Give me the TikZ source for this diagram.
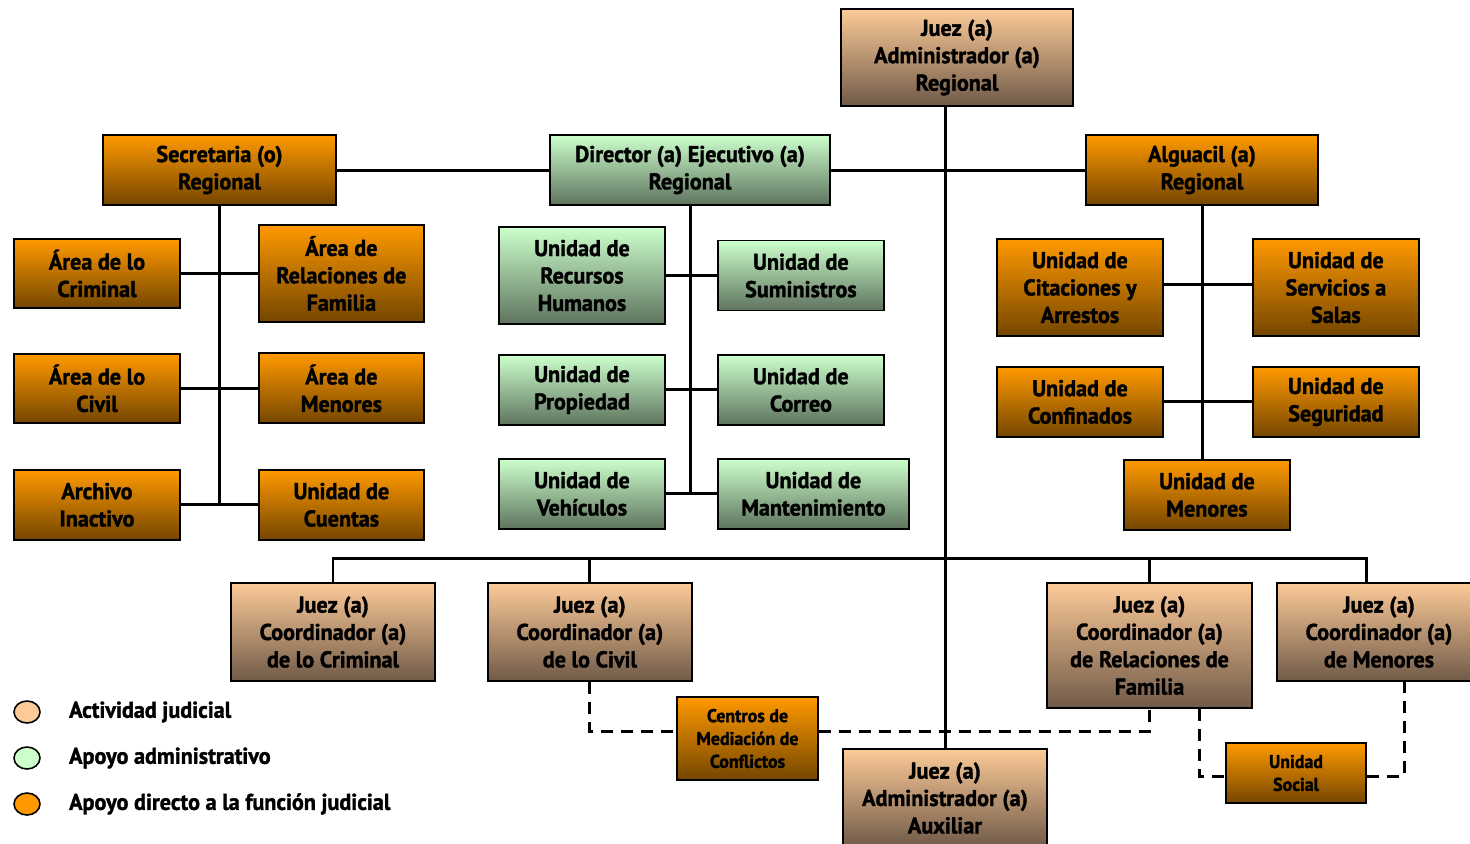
\documentclass[tikz,border=0pt]{standalone}
\usepackage{fontspec}
\newfontfamily\orgfont{PT Sans Bold}[FakeStretch=0.97, FakeBold=1.5]
\usepackage{tikz}
\usetikzlibrary{shapes, arrows, positioning}

\definecolor{orgtop}{HTML}{FF9900}
\definecolor{orgbot}{HTML}{744600}
\definecolor{judtop}{HTML}{FCCA98}
\definecolor{judbot}{HTML}{705A48}
\definecolor{admtop}{HTML}{CCFFCC}
\definecolor{admbot}{HTML}{5E735E}

\begin{document}
\begin{tikzpicture}[
    x=0.02cm, y=-0.02cm,
    box/.style={rectangle, draw=black, line width=1.1pt, align=center, inner sep=2pt, text=black, font=\orgfont\fontsize{13}{15.6}\selectfont},
    orgbox/.style={box, top color=orgtop, bottom color=orgbot},
    judbox/.style={box, top color=judtop, bottom color=judbot},
    admbox/.style={box, top color=admtop, bottom color=admbot},
    small/.style={font=\orgfont\fontsize{10.5}{13}\selectfont},
    line/.style={draw, line width=1.7pt},
    dline/.style={draw, line width=1.7pt, dash pattern=on 0.24cm off 0.16cm},
    legdot/.style={ellipse, draw=black, line width=0.9pt, minimum width=0.52cm, minimum height=0.44cm, inner sep=0pt},
    legtext/.style={inner sep=0pt, anchor=west, font=\orgfont\fontsize{13}{15}\selectfont}
]
\useasboundingbox (0,0) rectangle (1470,843);

% Top level
\node[judbox, minimum width=4.64cm, minimum height=1.94cm] (jar) at (957,57.5) {Juez (a)\\Administrador (a)\\Regional};
\node[orgbox, minimum width=4.66cm, minimum height=1.4cm] (secr) at (219.5,170) {Secretaria (o)\\Regional};
\node[admbox, minimum width=5.6cm, minimum height=1.4cm] (dir) at (690,170) {Director (a) Ejecutivo (a)\\Regional};
\node[orgbox, minimum width=4.64cm, minimum height=1.4cm] (alg) at (1202,170) {Alguacil (a)\\Regional};

% Secretaria
\node[orgbox, minimum width=3.32cm, minimum height=1.38cm] (crim) at (97,273.5) {Área de lo\\Criminal};
\node[orgbox, minimum width=3.3cm, minimum height=1.94cm, right=1.54cm of crim] (relfam) {Área de\\Relaciones de\\Familia};
\node[orgbox, minimum width=3.32cm, minimum height=1.38cm, below=0.88cm of crim] (civil) {Área de lo\\Civil};
\node[orgbox, minimum width=3.3cm, minimum height=1.4cm, right=1.54cm of civil] (amen) {Área de\\Menores};
\node[orgbox, minimum width=3.32cm, minimum height=1.4cm, below=0.9cm of civil] (arch) {Archivo\\Inactivo};
\node[orgbox, minimum width=3.3cm, minimum height=1.4cm, right=1.54cm of arch] (cuentas) {Unidad de\\Cuentas};

% Director
\node[admbox, minimum width=3.32cm, minimum height=1.94cm] (rrhh) at (582,275.5) {Unidad de\\Recursos\\Humanos};
\node[admbox, minimum width=3.32cm, minimum height=1.4cm, right=1.02cm of rrhh] (sumin) {Unidad de\\Suministros};
\node[admbox, minimum width=3.32cm, minimum height=1.4cm, below=0.58cm of rrhh] (prop) {Unidad de\\Propiedad};
\node[admbox, minimum width=3.32cm, minimum height=1.4cm, right=1.02cm of prop] (correo) {Unidad de\\Correo};
\node[admbox, minimum width=3.32cm, minimum height=1.4cm, below=0.64cm of prop] (veh) {Unidad de\\Vehículos};
\node[admbox, minimum width=3.82cm, minimum height=1.4cm, right=1.02cm of veh] (mant) {Unidad de\\Mantenimiento};

% Alguacil
\node[orgbox, minimum width=3.32cm, minimum height=1.94cm] (cit) at (1080,287.5) {Unidad de\\Citaciones y\\Arrestos};
\node[orgbox, minimum width=3.32cm, minimum height=1.94cm, right=1.76cm of cit] (serv) {Unidad de\\Servicios a\\Salas};
\node[orgbox, minimum width=3.32cm, minimum height=1.4cm, below=0.58cm of cit] (conf) {Unidad de\\Confinados};
\node[orgbox, minimum width=3.32cm, minimum height=1.4cm, right=1.76cm of conf] (seg) {Unidad de\\Seguridad};
\node[orgbox, minimum width=3.32cm, minimum height=1.4cm, below=0.42cm of conf, xshift=2.54cm] (umen) {Unidad de\\Menores};

% Coordinators
\node[judbox, minimum width=4.08cm, minimum height=1.96cm] (ccrim) at (333,632) {Juez (a)\\Coordinador (a)\\de lo Criminal};
\node[judbox, minimum width=4.08cm, minimum height=1.96cm, right=1.02cm of ccrim] (ccivil) {Juez (a)\\Coordinador (a)\\de lo Civil};
\node[judbox, minimum width=4.1cm, minimum height=2.5cm] (cfam) at (1149.5,645.5) {Juez (a)\\Coordinador (a)\\de Relaciones de\\Familia};
\node[judbox, minimum width=4.08cm, minimum height=1.96cm] (cmen) at (1379,632) {Juez (a)\\Coordinador (a)\\de Menores};
\node[orgbox, small, minimum width=2.82cm, minimum height=1.66cm] (centros) at (747.5,738.5) {Centros de\\Mediación de\\Conflictos};
\node[judbox, minimum width=4.08cm, minimum height=1.96cm] (aux) at (945,798) {Juez (a)\\Administrador (a)\\Auxiliar};
\node[orgbox, small, minimum width=2.8cm, minimum height=1.2cm] (social) at (1296,773) {Unidad\\Social};

% Legend
\node[legdot, fill=judtop] (lj) at (27,712) {};
\node[legdot, fill=admtop] (la) at (27,758) {};
\node[legdot, fill=orgtop] (lo) at (27,804) {};
\node[legtext, right=0.56cm of lj] (ljt) {Actividad judicial};
\node[legtext, right=0.56cm of la] (lat) {Apoyo administrativo};
\node[legtext, right=0.56cm of lo] (lot) {Apoyo directo a la función judicial};

% Connections
\draw[line] (jar.south -| aux.north) -- (aux.north);
\draw[line] (secr.east) -- (dir.west);
\draw[line] (dir.east) -- (alg.west);

\draw[line] (secr.south) -- (secr.south |- arch.east);
\draw[line] (crim.east) -- (crim.east -| relfam.west);
\draw[line] (civil.east) -- (civil.east -| amen.west);
\draw[line] (arch.east) -- (arch.east -| cuentas.west);

\draw[line] (dir.south) -- (dir.south |- veh.east);
\draw[line] (sumin.west -| rrhh.east) -- (sumin.west);
\draw[line] (prop.east) -- (prop.east -| correo.west);
\draw[line] (veh.east) -- (mant.west);

\draw[line] (alg.south) -- (alg.south |- umen.north);
\draw[line] ([yshift=0.07cm]cit.east) -- ([yshift=0.07cm]serv.west);
\draw[line] (conf.east) -- (conf.east -| seg.west);

% Coordinator bus
\draw[line] (ccrim.north) -- ++(0,-24) -| ([xshift=-0.26cm]cmen.north);
\draw[line] (ccivil.north) -- ++(0,-24);
\draw[line] (cfam.north) -- ++(0,-24);

% Dashed links
\draw[dline] (ccivil.south) |- ([yshift=0.15cm]centros.west);
\draw[dline] ([yshift=0.15cm]centros.east) -| (cfam.south);
\draw[dline] ([xshift=1cm]cfam.south) |- ([yshift=-0.06cm]social.west);
\draw[dline] ([yshift=-0.06cm]social.east) -| ([xshift=0.5cm]cmen.south);

\end{tikzpicture}
\end{document}
